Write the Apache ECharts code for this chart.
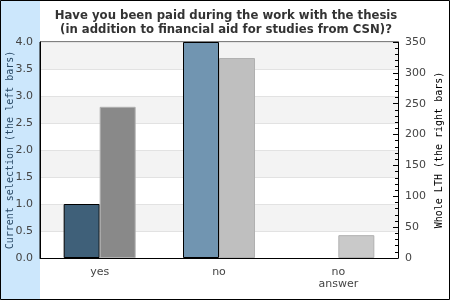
<!DOCTYPE html>
<html><head><meta charset="utf-8">
<script src="https://cdn.jsdelivr.net/npm/echarts@6/dist/echarts.min.js"></script>
<style>html,body{margin:0;padding:0;background:#fff}#c{width:450px;height:300px}</style>
</head><body><div id="c"></div>
<script>
var categories = ['yes', 'no', 'no\nanswer'];
var currentSelection = [1.0, 4.0, 0];
var wholeLTH = [245, 324, 37];
var leftColors = ['#3f6079', '#7195b1', '#7195b1'];
var rightColors = ['#898989', '#bfbfbf', '#c9c9c9'];
var leftTicks = [0, 4, 0.5];
var rightTicks = [0, 350, 50];

var chart = echarts.init(document.getElementById('c'), null, {renderer: 'canvas'});
var font = 'DejaVu Sans';
chart.setOption({
  animation: false,
  backgroundColor: '#fff',
  graphic: [
    {type: 'rect', z: -10, shape: {x: 0, y: 0, width: 40, height: 300}, style: {fill: '#cce7fc'}},
    {type: 'rect', z: 100, shape: {x: 0.5, y: 0.5, width: 449, height: 299}, style: {fill: null, stroke: '#000', lineWidth: 1}}
  ],
  title: {
    text: 'Have you been paid during the work with the thesis\n(in addition to financial aid for studies from CSN)?',
    left: 221, top: 4, textAlign: 'center',
    textStyle: {fontFamily: font, fontWeight: 'bold', fontSize: 11.7, color: '#333', lineHeight: 14}
  },
  grid: {left: 40, right: 52, top: 42, bottom: 42, show: true, borderColor: '#000', borderWidth: 1, backgroundColor: 'transparent', outerBoundsMode: 'none', containLabel: false},
  xAxis: {
    type: 'category', data: categories,
    axisLine: {lineStyle: {color: '#000', width: 1}},
    axisTick: {show: false},
    axisLabel: {fontFamily: font, fontSize: 11, color: '#444', margin: 8, lineHeight: 12}
  },
  yAxis: [
    {
      type: 'value', min: leftTicks[0], max: leftTicks[1], interval: leftTicks[2],
      name: 'Current selection (the left bars)', nameLocation: 'middle', nameGap: 25, nameMoveOverlap: false,
      nameTextStyle: {fontFamily: 'DejaVu Sans Mono', fontSize: 10, color: '#2a4a66'},
      axisLine: {show: true, lineStyle: {color: '#000'}},
      axisTick: {show: false},
      axisLabel: {fontFamily: font, fontSize: 11, color: '#444', margin: 7, formatter: function(v){return v.toFixed(1);}},
      splitLine: {show: true, lineStyle: {color: '#e2e2e2'}},
      splitArea: {show: true, areaStyle: {color: ['#ffffff', '#f3f3f3']}}
    },
    {
      type: 'value', min: rightTicks[0], max: rightTicks[1], interval: rightTicks[2],
      name: 'Whole LTH (the right bars)', nameLocation: 'middle', nameGap: 36, nameRotate: 90, nameMoveOverlap: false,
      nameTextStyle: {fontFamily: 'DejaVu Sans Mono', fontSize: 10, color: '#000'},
      axisLine: {show: true, lineStyle: {color: '#000'}},
      axisTick: {show: true, inside: true, length: 5, lineStyle: {color: '#000'}},
      minorTick: {show: true, splitNumber: 5, length: 3, lineStyle: {color: '#000'}},
      axisLabel: {fontFamily: font, fontSize: 11, color: '#444', margin: 7},
      splitLine: {show: false}
    }
  ],
  series: [
    {
      type: 'bar', yAxisIndex: 0, barWidth: 36, barGap: '0%',
      data: currentSelection.map(function(v, i){return {value: v, itemStyle: {color: leftColors[i], borderColor: v ? '#000' : 'transparent', borderWidth: 1}};})
    },
    {
      type: 'bar', yAxisIndex: 1, barWidth: 36, barGap: '0%',
      data: wholeLTH.map(function(v, i){return {value: v, itemStyle: {color: rightColors[i], borderColor: '#b0b0b0', borderWidth: 1}};})
    }
  ]
});
</script></body></html>
